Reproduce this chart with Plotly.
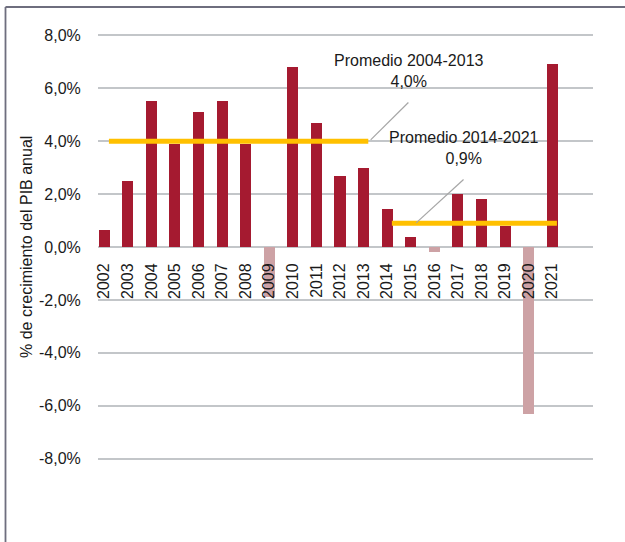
import plotly.graph_objects as go

# crecimiento anual del PIB (%)
years = list(range(2002, 2022))
growth = [0.65, 2.5, 5.5, 3.9, 5.1, 5.5, 3.9, -1.9, 6.8, 4.7,
          2.7, 3.0, 1.45, 0.38, -0.2, 2.0, 1.8, 0.8, -6.3, 6.9]

# promedios por periodo
avg_labels = ['Promedio 2004-2013', 'Promedio 2014-2021']
avg_values = [4.0, 0.9]
avg_text = ['4,0%', '0,9%']
avg_start = [2002.2, 2014.2]
avg_end = [2013.2, 2021.2]

y_ticks = [-8, -6, -4, -2, 0, 2, 4, 6, 8]
y_ticktext = ['%.1f%%' % v for v in y_ticks]
y_ticktext = [t.replace('.', ',') for t in y_ticktext]

POS = '#A51A30'
NEG = '#CDA2A5'
YELLOW = '#FFC000'
W, H = 625, 542
ML, MR, MT, MB = 98, 32, 34, 82
FONT = 'Liberation Sans, Arial, sans-serif'

fig = go.Figure()
fig.add_trace(go.Bar(x=years, y=growth, width=0.47,
                     marker_color=[POS if v >= 0 else NEG for v in growth],
                     marker_line_width=0, showlegend=False))

for i in range(len(avg_values)):
    fig.add_trace(go.Scatter(x=[avg_start[i], avg_end[i]], y=[avg_values[i], avg_values[i]],
                             mode='lines', line=dict(color=YELLOW, width=5),
                             showlegend=False, hoverinfo='skip'))

# conectores de las etiquetas
callouts = [((2013.3, 4.05), (2014.9, 5.46)), ((2015.23, 0.91), (2017.24, 2.55))]
for (x0, y0), (x1, y1) in callouts:
    fig.add_shape(type='line', x0=x0, y0=y0, x1=x1, y1=y1,
                  line=dict(color='#A6A6A6', width=1.2))
label_pos = [(2014.92, 6.65), (2017.24, 3.75)]
for i, (lx, ly) in enumerate(label_pos):
    fig.add_annotation(x=lx, y=ly, text=avg_labels[i] + '<br>' + avg_text[i],
                       showarrow=False, font=dict(size=16, color='#1a1a1a'),
                       xanchor='center', yanchor='middle')

pw = W - ML - MR
ph = H - MT - MB

# titulo eje y
fig.add_annotation(xref='paper', yref='paper', x=(26 - ML) / pw, y=0.5,
                   text='% de crecimiento del PIB anual', textangle=-90,
                   showarrow=False, font=dict(size=16, color='#1a1a1a'),
                   xanchor='center', yanchor='middle')

# marco (solo se ven el borde superior e izquierdo)
fx = (5.5 - ML) / pw
fy = (H - MB - 7) / ph
fig.add_shape(type='line', xref='paper', yref='paper', x0=fx, y0=-0.3, x1=fx, y1=fy,
              line=dict(color='#6E6E7E', width=1.8), layer='above')
fig.add_shape(type='line', xref='paper', yref='paper', x0=fx, y0=fy, x1=1.2, y1=fy,
              line=dict(color='#6E6E7E', width=1.8), layer='above')

ylo, yhi = -8.05, 8.05
fig.update_layout(
    width=W, height=H,
    margin=dict(l=ML, r=MR, t=MT, b=MB, autoexpand=False),
    paper_bgcolor='white', plot_bgcolor='white',
    font=dict(family=FONT, size=16, color='#1a1a1a'),
    bargap=0,
    xaxis=dict(range=[2001.737, 2022.73], tickvals=years, ticktext=[str(y) for y in years],
               tickangle=-90, showgrid=False, zeroline=False, showline=False,
               anchor='free', position=(0 - ylo) / (yhi - ylo), automargin=False,
               ticks='outside', ticklen=9, tickcolor='rgba(0,0,0,0)'),
    yaxis=dict(range=[ylo, yhi], tickvals=y_ticks, ticktext=y_ticktext, automargin=False,
               showgrid=True, gridcolor='#C3C6C9', gridwidth=1.6, zeroline=False,
               showline=False, ticks='outside', ticklen=13, tickcolor='rgba(0,0,0,0)'),
)

# sin margen del body para que el grafico quede en 0,0
fig.write_html("out.html", config={'displayModeBar': False},
               post_script="document.body.style.margin='0';document.body.style.overflow='hidden';")
